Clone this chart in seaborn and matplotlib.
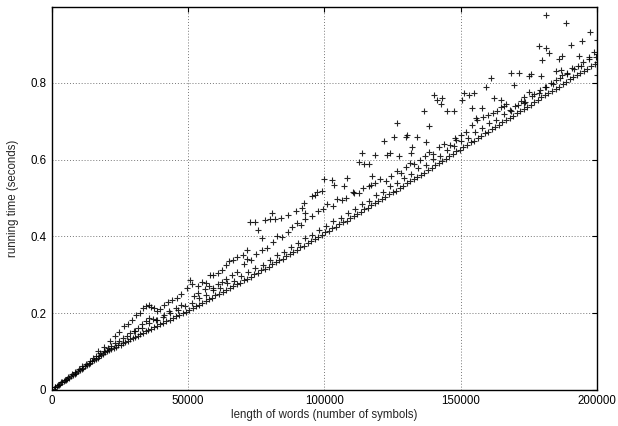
import pandas as pd
import matplotlib
matplotlib.use("Agg")
import matplotlib.pyplot as plt
import seaborn as sns

# lower, dense band
x_low = [0, 600, 1200, 1900, 2500, 3100, 3800, 4400, 5000, 5700,
         6300, 7000, 7600, 8300, 8900, 9600, 10200, 10900, 11500, 12200,
         12800, 13500, 14100, 14800, 15400, 16100, 16800, 17400, 18100, 18800,
         19500, 20200, 21000, 21800, 22600, 23500, 24300, 25200, 26100, 27000,
         27900, 28800, 29700, 30600, 31500, 32400, 33400, 34400, 35400, 36400,
         37500, 38600, 39700, 40800, 42000, 43200, 44400, 45600, 46800, 48000,
         49200, 50400, 51600, 52800, 54000, 55200, 56400, 57600, 58800, 60000,
         61300, 62600, 63900, 65200, 66500, 67800, 69100, 70400, 71700, 73000,
         74300, 75600, 76900, 78200, 79500, 80800, 82100, 83400, 84700, 86000,
         87300, 88600, 89900, 91200, 92500, 93800, 95100, 96400, 97700, 99000,
         100300, 101600, 102900, 104200, 105500, 106800, 108100, 109400, 110700, 112000,
         113300, 114600, 115900, 117200, 118500, 119800, 121100, 122400, 123700, 125000,
         126300, 127600, 128900, 130200, 131500, 132800, 134100, 135400, 136700, 138000,
         139300, 140600, 141900, 143200, 144500, 145800, 147100, 148400, 149700, 151000,
         152300, 153600, 154900, 156200, 157500, 158800, 160100, 161400, 162700, 164000,
         165300, 166600, 167900, 169200, 170500, 171800, 173100, 174400, 175700, 177000,
         178300, 179600, 180900, 182200, 183500, 184800, 186100, 187400, 188700, 190000,
         191300, 192600, 193900, 195200, 196500, 197800, 199100, 200000]
t_low = [0.000, 0.003, 0.006, 0.010, 0.012, 0.016, 0.019, 0.022, 0.025, 0.029,
         0.032, 0.035, 0.038, 0.042, 0.044, 0.048, 0.051, 0.055, 0.057, 0.061,
         0.064, 0.068, 0.070, 0.074, 0.077, 0.081, 0.083, 0.087, 0.090, 0.093,
         0.098, 0.101, 0.104, 0.107, 0.110, 0.112, 0.116, 0.118, 0.122, 0.125,
         0.128, 0.132, 0.134, 0.138, 0.141, 0.145, 0.148, 0.152, 0.155, 0.159,
         0.163, 0.167, 0.171, 0.174, 0.179, 0.183, 0.186, 0.191, 0.194, 0.199,
         0.203, 0.208, 0.213, 0.218, 0.222, 0.227, 0.231, 0.237, 0.240, 0.246,
         0.250, 0.255, 0.261, 0.264, 0.270, 0.275, 0.279, 0.286, 0.290, 0.295,
         0.301, 0.305, 0.311, 0.316, 0.321, 0.328, 0.332, 0.338, 0.342, 0.349,
         0.354, 0.360, 0.365, 0.372, 0.376, 0.383, 0.387, 0.393, 0.398, 0.404,
         0.410, 0.414, 0.421, 0.425, 0.431, 0.436, 0.441, 0.448, 0.452, 0.459,
         0.463, 0.470, 0.474, 0.481, 0.486, 0.492, 0.498, 0.503, 0.509, 0.515,
         0.519, 0.526, 0.531, 0.538, 0.543, 0.550, 0.555, 0.561, 0.566, 0.573,
         0.578, 0.585, 0.590, 0.597, 0.601, 0.609, 0.614, 0.621, 0.626, 0.633,
         0.638, 0.645, 0.649, 0.656, 0.661, 0.668, 0.673, 0.680, 0.685, 0.691,
         0.697, 0.702, 0.709, 0.714, 0.721, 0.726, 0.731, 0.738, 0.743, 0.750,
         0.755, 0.762, 0.767, 0.774, 0.779, 0.785, 0.790, 0.797, 0.802, 0.809,
         0.814, 0.821, 0.826, 0.832, 0.837, 0.845, 0.850, 0.855]

# second line just above the lower band
x_near = [1000, 2300, 3500, 4800, 6000, 7300, 8600, 9900, 11200, 12500,
          13800, 15000, 16300, 17600, 30500, 33100, 35700, 38300, 40900, 43500,
          46100, 48700, 51300, 53900, 56500, 59100, 61700, 64300, 66900, 69500,
          72100, 74700, 77300, 79900, 82500, 85100, 87700, 90300, 92900, 95500,
          98100, 100700, 103300, 105900, 108500, 111100, 113700, 116300, 118900, 121500,
          124100, 126700, 129300, 131900, 134500, 137100, 139700, 142300, 144900, 147500,
          150100, 152700, 155300, 157900, 160500, 163100, 165700, 168300, 170900, 173500,
          176100, 178700, 181300, 183900, 186500, 189100, 191700, 194300, 196900, 199500]
t_near = [0.006, 0.013, 0.019, 0.026, 0.033, 0.040, 0.047, 0.054, 0.061, 0.068,
          0.075, 0.082, 0.089, 0.096, 0.152, 0.160, 0.174, 0.181, 0.190, 0.200,
          0.207, 0.218, 0.226, 0.238, 0.246, 0.259, 0.265, 0.277, 0.284, 0.297,
          0.306, 0.318, 0.326, 0.339, 0.351, 0.359, 0.373, 0.382, 0.395, 0.404,
          0.417, 0.426, 0.439, 0.447, 0.462, 0.470, 0.485, 0.493, 0.507, 0.516,
          0.530, 0.538, 0.553, 0.562, 0.577, 0.585, 0.601, 0.610, 0.624, 0.634,
          0.648, 0.657, 0.671, 0.681, 0.695, 0.703, 0.718, 0.727, 0.741, 0.750,
          0.765, 0.774, 0.788, 0.797, 0.812, 0.822, 0.836, 0.845, 0.861, 0.868]

# middle band
x_mid = [19000, 20400, 21800, 23200, 24600, 26000, 27400, 28800, 30200, 31600,
         33000, 34400, 35800, 37200, 38600, 41000, 43000, 45500, 47500, 52000,
         53500, 56000, 57500, 59000, 61000, 62500, 64000, 66000, 68000, 70300,
         71500, 73000, 75000, 77000, 79000, 81000, 82600, 84500, 86500, 88000,
         90000, 91500, 93000, 95500, 97500, 99500, 101000, 103000, 104700, 106500,
         108000, 110500, 112500, 114000, 116500, 118500, 120500, 122500, 124500, 126500,
         128000, 130000, 131500, 133000, 135000, 137000, 138500, 140000, 142000, 144000,
         146000, 148000, 150000, 152000, 154000, 156000, 158000, 160000, 162000, 164700,
         166500, 168000, 170000, 172000, 173200, 175000, 177000, 179000, 181000, 183000,
         185000, 187000, 189000, 191000, 193000, 195000, 197000, 199000, 200000]
t_mid = [0.102, 0.108, 0.114, 0.121, 0.127, 0.134, 0.140, 0.147, 0.154, 0.161,
         0.172, 0.180, 0.186, 0.184, 0.181, 0.195, 0.205, 0.212, 0.222, 0.245,
         0.252, 0.262, 0.270, 0.265, 0.275, 0.282, 0.290, 0.298, 0.308, 0.328,
         0.340, 0.338, 0.355, 0.365, 0.370, 0.385, 0.400, 0.398, 0.410, 0.425,
         0.434, 0.430, 0.445, 0.452, 0.465, 0.472, 0.483, 0.478, 0.496, 0.495,
         0.500, 0.515, 0.512, 0.527, 0.532, 0.540, 0.548, 0.545, 0.558, 0.570,
         0.565, 0.580, 0.592, 0.588, 0.600, 0.610, 0.620, 0.615, 0.632, 0.640,
         0.638, 0.655, 0.665, 0.672, 0.690, 0.702, 0.712, 0.715, 0.722, 0.736,
         0.745, 0.728, 0.740, 0.752, 0.762, 0.775, 0.772, 0.780, 0.790, 0.800,
         0.808, 0.820, 0.825, 0.838, 0.845, 0.855, 0.868, 0.880, 0.875]

# upper scattered points
x_top = [17000, 19000, 21300, 23000, 24500, 26500, 28000, 29500, 31000, 32300,
         33600, 34500, 35500, 36500, 37500, 38500, 39700, 41000, 42500, 44000,
         46000, 47500, 49500, 50500, 51500, 53500, 55000, 56500, 58000, 59000,
         61000, 62500, 64000, 65000, 66500, 68000, 70000, 71500, 72800, 74500,
         75500, 77000, 78300, 80000, 80700, 82000, 84000, 86500, 89500, 91800,
         92400, 93000, 95500, 96700, 97300, 99100, 99700, 102800, 103400, 107100,
         108300, 110800, 112600, 113800, 114400, 116300, 116900, 117500, 118700, 121800,
         123000, 124200, 125500, 126500, 127300, 129800, 130400, 131600, 132200, 134000,
         136500, 137100, 138300, 140200, 141400, 142600, 143200, 145100, 147500, 148100,
         150600, 151200, 153000, 154300, 154900, 155500, 157900, 159200, 161000, 162200,
         163400, 164700, 165900, 168300, 169600, 171400, 173200, 175100, 175700, 178800,
         179400, 180000, 181200, 181300, 182400, 184900, 186100, 186700, 187300, 188600,
         190400, 193500, 194400, 197500, 199900, 200000]
t_top = [0.100, 0.112, 0.128, 0.140, 0.150, 0.165, 0.172, 0.183, 0.195, 0.200,
         0.212, 0.218, 0.222, 0.215, 0.212, 0.205, 0.210, 0.222, 0.230, 0.235,
         0.240, 0.250, 0.265, 0.285, 0.275, 0.270, 0.282, 0.278, 0.300, 0.300,
         0.305, 0.312, 0.325, 0.335, 0.338, 0.345, 0.350, 0.365, 0.436, 0.436,
         0.417, 0.395, 0.443, 0.445, 0.462, 0.445, 0.448, 0.455, 0.467, 0.474,
         0.487, 0.460, 0.505, 0.508, 0.515, 0.517, 0.548, 0.547, 0.534, 0.530,
         0.552, 0.514, 0.593, 0.617, 0.589, 0.589, 0.534, 0.556, 0.613, 0.648,
         0.613, 0.617, 0.660, 0.695, 0.608, 0.659, 0.665, 0.617, 0.633, 0.660,
         0.726, 0.645, 0.688, 0.769, 0.756, 0.746, 0.760, 0.726, 0.726, 0.652,
         0.756, 0.773, 0.769, 0.734, 0.773, 0.708, 0.734, 0.789, 0.812, 0.760,
         0.726, 0.756, 0.739, 0.826, 0.793, 0.826, 0.747, 0.817, 0.824, 0.895,
         0.819, 0.859, 0.891, 0.976, 0.878, 0.830, 0.862, 0.834, 0.869, 0.956,
         0.899, 0.869, 0.908, 0.932, 0.912, 0.821]

df = pd.concat([
    pd.DataFrame({"length": x_low, "time": t_low}),
    pd.DataFrame({"length": x_near, "time": t_near}),
    pd.DataFrame({"length": x_mid, "time": t_mid}),
    pd.DataFrame({"length": x_top, "time": t_top}),
], ignore_index=True)

sns.set_style("white")
plt.rcParams['font.family'] = ['Liberation Sans', 'DejaVu Sans']

fig = plt.figure(figsize=(6.18, 4.26), dpi=100)
ax = fig.add_axes([0.084, 0.085, 0.882, 0.899])

sns.scatterplot(data=df, x="length", y="time", marker="+", color="black",
                s=22, linewidth=0.8, alpha=0.85, ax=ax, legend=False)

ax.set_xlim(0, 200000)
ax.set_ylim(0, 0.998)
ax.set_xticks([0, 50000, 100000, 150000, 200000])
ax.set_xticklabels(["0", "50000", "100000", "150000", "200000"])
ax.set_yticks([0, 0.2, 0.4, 0.6, 0.8])
ax.set_yticklabels(["0", "0.2", "0.4", "0.6", "0.8"])
ax.grid(True, linestyle=(0, (1, 2)), color="#777777", linewidth=0.7)
ax.tick_params(direction="in", length=3.5, width=0.8, top=True, right=True,
               labelsize=8.3, colors="black", pad=4)
for sp in ax.spines.values():
    sp.set_color("black")
    sp.set_linewidth(1.0)

ax.set_xlabel("length of words (number of symbols)", fontsize=8.3, labelpad=1)
ax.set_ylabel("running time (seconds)", fontsize=8.3, labelpad=8)

fig.savefig("out.png", dpi=100)
